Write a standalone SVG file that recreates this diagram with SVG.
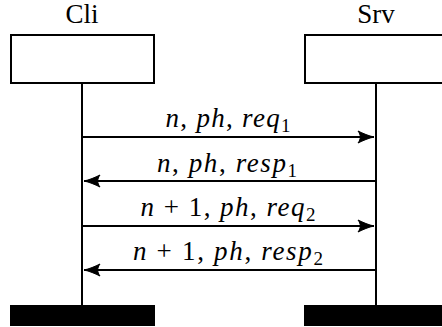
<svg xmlns="http://www.w3.org/2000/svg" width="442" height="327" viewBox="0 0 442 327">
<style>
.box{fill:#fff;stroke:#000;stroke-width:2}
.bar{fill:#000}
.life{stroke:#000;stroke-width:2;fill:none}
.msg{stroke:#000;stroke-width:2;fill:none}
.lbl{font-family:'Liberation Serif','Times New Roman',serif;font-size:27px;text-anchor:middle;fill:#000}
.i{font-style:italic}
.sub{font-size:19px}
</style>
<defs>
<marker id="ah" markerUnits="userSpaceOnUse" markerWidth="20" markerHeight="16" refX="0" refY="0" viewBox="-18 -8 20 16" orient="auto" overflow="visible">
<path d="M0,0 C-5,-1 -11,-3.5 -16,-6 C-13,-2 -13,2 -16,6 C-11,3.5 -5,1 0,0 Z" fill="#000" stroke="#000" stroke-width="1" stroke-linejoin="round"/>
</marker>
</defs>
<g id="cli">
<text class="lbl" x="82" y="23">Cli</text>
<rect class="box" x="11" y="35" width="143" height="48"/>
<rect class="bar" x="10" y="305" width="145" height="21"/>
</g>
<g id="srv">
<text class="lbl" x="376" y="23">Srv</text>
<rect class="box" x="305" y="35" width="143" height="48"/>
<rect class="bar" x="304" y="305" width="145" height="21"/>
</g>
<g id="connectors">
<line class="life" x1="82" y1="83" x2="82" y2="305"/>
<line class="life" x1="376" y1="83" x2="376" y2="305"/>
<line class="msg" x1="82" y1="137" x2="374" y2="137" marker-end="url(#ah)"/>
<line class="msg" x1="376" y1="181" x2="84" y2="181" marker-end="url(#ah)"/>
<line class="msg" x1="82" y1="226" x2="374" y2="226" marker-end="url(#ah)"/>
<line class="msg" x1="376" y1="270" x2="84" y2="270" marker-end="url(#ah)"/>
</g>
<g id="labels">
<text class="lbl" x="228" y="127" textLength="125" lengthAdjust="spacing"><tspan class="i">n</tspan>, <tspan class="i">ph</tspan>, <tspan class="i">req</tspan><tspan class="sub" dy="5">1</tspan></text>
<text class="lbl" x="227" y="172" textLength="140" lengthAdjust="spacing"><tspan class="i">n</tspan>, <tspan class="i">ph</tspan>, <tspan class="i">resp</tspan><tspan class="sub" dy="5">1</tspan></text>
<text class="lbl" x="228" y="216" textLength="175" lengthAdjust="spacing"><tspan class="i">n</tspan> + 1, <tspan class="i">ph</tspan>, <tspan class="i">req</tspan><tspan class="sub" dy="5">2</tspan></text>
<text class="lbl" x="228" y="260" textLength="190" lengthAdjust="spacing"><tspan class="i">n</tspan> + 1, <tspan class="i">ph</tspan>, <tspan class="i">resp</tspan><tspan class="sub" dy="5">2</tspan></text>
</g>
</svg>
